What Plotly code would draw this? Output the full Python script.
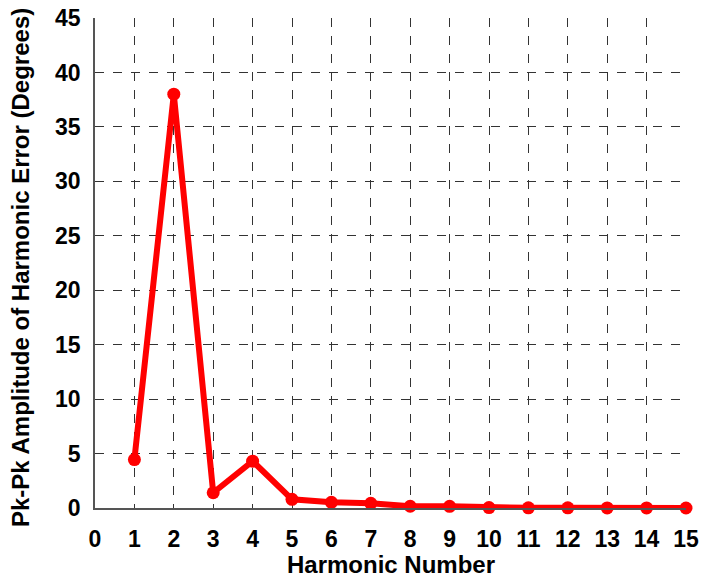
import plotly.graph_objects as go

# Harmonic error spectrum
harmonics = [1, 2, 3, 4, 5, 6, 7, 8, 9, 10, 11, 12, 13, 14, 15]
pk_pk_error = [4.45, 38.0, 1.4, 4.3, 0.8, 0.52, 0.43, 0.16, 0.15, 0.04, 0.02, 0.02, 0.01, 0.01, 0.0]

x_ticks = list(range(0, 16))
y_ticks = list(range(0, 46, 5))
x_title = "Harmonic Number"
y_title = "Pk-Pk Amplitude of Harmonic Error (Degrees)"

font_family = "Liberation Sans"
tick_font = dict(family=font_family, size=23, color="#000000", weight=700)
title_font = dict(family=font_family, size=24, color="#000000", weight=700)

fig = go.Figure(
    go.Scatter(
        x=harmonics,
        y=pk_pk_error,
        mode="lines+markers",
        line=dict(color="#ff0000", width=6),
        marker=dict(color="#ff0000", size=13),
        cliponaxis=False,
        showlegend=False,
    )
)

axis_common = dict(
    showgrid=True,
    gridcolor="#333333",
    griddash="dash",
    gridwidth=1,
    zeroline=False,
    showline=True,
    linecolor="#555555",
    linewidth=1.5,
    ticks="",
    tickfont=tick_font,
    automargin=False,
)

fig.update_xaxes(
    **axis_common,
    range=[0, 15],
    tickvals=x_ticks,
    ticktext=[f"<b>{t}</b>" for t in x_ticks],
    ticklabelstandoff=10,
)
fig.update_yaxes(
    **axis_common,
    range=[0, 45],
    tickvals=y_ticks,
    ticktext=[f"<b>{t}</b>" for t in y_ticks],
    ticklabelstandoff=8,
)

# Axis titles placed as annotations relative to the plot area
fig.add_annotation(
    text=f"<b>{x_title}</b>", font=title_font, showarrow=False,
    xref="paper", yref="paper", x=0.5, y=0, xanchor="center", yanchor="middle",
    yshift=-56,
)
fig.add_annotation(
    text=f"<b>{y_title}</b>", font=title_font, showarrow=False, textangle=-90,
    xref="paper", yref="paper", x=0, y=0.5, xanchor="center", yanchor="middle",
    xshift=-75, yshift=-5,
)

fig.update_layout(
    width=715,
    height=580,
    margin=dict(l=95, r=29, t=18, b=72),
    plot_bgcolor="white",
    paper_bgcolor="white",
    font=dict(family=font_family, size=22, color="#000000", weight=700),
)

fig.write_html("out.html")
